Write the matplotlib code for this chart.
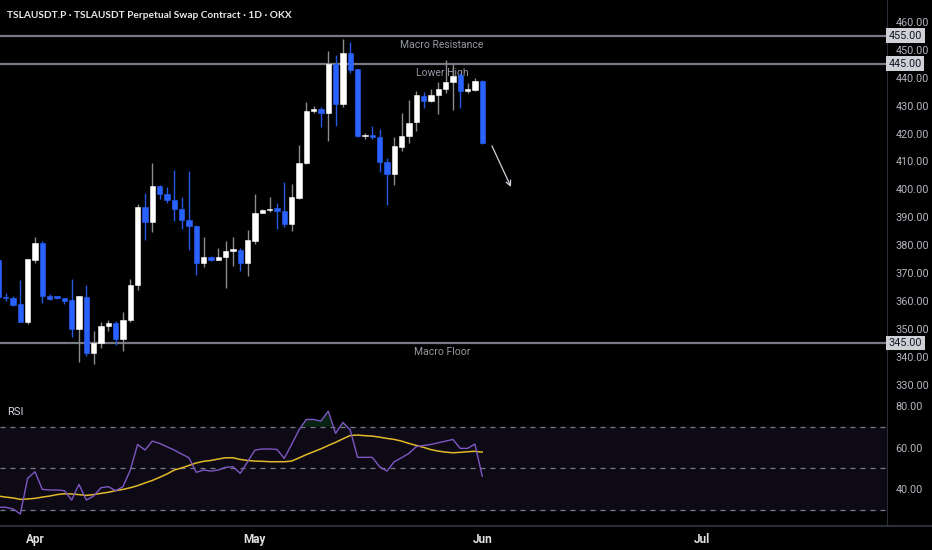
import pandas as pd
import matplotlib
matplotlib.use("Agg")
import matplotlib.pyplot as plt
import matplotlib.dates as mdates

plt.rcParams['font.family'] = ['Roboto', 'DejaVu Sans']

# daily candles, Mar 27 .. Jun 1
dates = pd.date_range('2025-03-27', '2025-06-01', freq='D')

opens = [374.7, 361.6, 361.0, 359.0, 352.7, 374.7, 380.7, 362.0, 361.5, 361.0,
         360.3, 350.0, 361.5, 341.6, 345.1, 351.2, 352.2, 346.5, 353.3, 365.8,
         393.6, 388.4, 401.1, 398.4, 396.3, 392.9, 389.2, 387.0, 373.6, 375.7,
         374.7, 375.7, 378.1, 378.2, 373.8, 381.7, 391.7, 392.7, 393.2, 392.3,
         387.6, 397.0, 409.4, 428.2, 428.7, 427.5, 444.8, 430.6, 448.7, 443.0,
         419.0, 419.4, 418.9, 409.9, 405.4, 415.3, 419.1, 424.1, 433.4, 431.7,
         433.7, 436.1, 438.6, 440.9, 435.4, 435.6, 438.9]
highs = [376.5, 362.8, 362.0, 367.6, 375.1, 383.1, 381.7, 362.6, 361.9, 361.2,
         367.9, 361.9, 365.8, 349.3, 352.4, 353.3, 352.9, 356.0, 367.8, 394.8,
         398.6, 409.4, 401.5, 400.8, 407.0, 397.2, 406.7, 387.2, 383.1, 376.2,
         378.9, 381.5, 383.1, 378.9, 385.5, 398.4, 392.9, 397.2, 395.0, 402.7,
         402.0, 416.0, 431.2, 429.9, 429.6, 449.5, 448.1, 453.7, 452.8, 443.2,
         420.3, 422.7, 421.6, 411.4, 418.7, 427.5, 432.0, 435.1, 435.0, 435.8,
         438.6, 446.3, 444.8, 441.6, 438.2, 440.0, 439.2]
lows = [360.0, 360.2, 358.2, 352.4, 351.8, 373.8, 359.5, 360.4, 360.7, 359.0,
        347.3, 338.4, 340.5, 337.5, 343.4, 349.4, 344.3, 342.3, 352.7, 364.0,
        381.9, 384.9, 396.5, 395.3, 388.8, 385.8, 378.3, 369.4, 372.1, 374.4,
        374.6, 364.8, 372.7, 370.9, 369.0, 380.5, 391.5, 392.0, 385.8, 386.4,
        385.0, 396.6, 409.1, 427.2, 422.5, 417.4, 422.8, 429.6, 441.8, 418.7,
        417.9, 418.2, 406.3, 394.4, 401.6, 413.9, 416.7, 421.0, 429.3, 431.2,
        426.9, 434.4, 428.4, 429.3, 434.4, 435.4, 416.2]
closes = [361.6, 361.0, 358.6, 352.7, 375.0, 380.7, 362.0, 360.9, 361.3, 360.2,
          350.0, 361.7, 341.5, 345.1, 351.2, 352.3, 346.5, 353.4, 365.8, 393.6,
          388.4, 401.1, 398.4, 396.2, 392.9, 389.1, 386.9, 373.6, 375.7, 374.7,
          375.7, 378.1, 378.3, 373.8, 381.9, 391.7, 392.6, 392.9, 392.3, 387.6,
          397.2, 409.6, 428.1, 428.4, 427.5, 444.8, 430.6, 448.7, 442.7, 419.1,
          419.2, 418.9, 409.7, 405.4, 415.4, 419.1, 423.9, 433.7, 431.7, 433.7,
          436.1, 438.6, 440.6, 435.3, 435.5, 438.9, 416.5]

rsi = [31.3, 31.3, 30.5, 28.1, 45.2, 48.4, 39.9, 39.6, 39.6, 39.3,
       34.8, 42.3, 34.8, 36.7, 40.7, 41.2, 39.3, 41.2, 49.2, 61.5,
       58.8, 63.1, 62.0, 60.4, 58.8, 56.9, 55.1, 48.1, 49.2, 48.7,
       49.2, 50.5, 50.8, 47.6, 53.2, 58.8, 59.3, 59.3, 59.1, 54.8,
       61.5, 68.4, 73.5, 73.5, 72.7, 77.5, 66.8, 72.1, 68.4, 55.3,
       55.3, 55.3, 50.8, 48.7, 53.2, 55.1, 57.2, 60.4, 61.0, 61.5,
       62.3, 63.1, 63.9, 59.6, 59.6, 61.7, 46.3]
rsi_ma = [36.7, 36.2, 35.8, 35.1, 35.3, 35.6, 36.2, 36.7, 37.4, 37.8,
          37.7, 37.4, 37.0, 37.4, 38.0, 38.5, 39.3, 39.9, 40.7, 41.7,
          43.0, 44.2, 45.7, 47.3, 49.2, 50.2, 51.4, 52.6, 53.4, 53.8,
          54.5, 55.1, 55.1, 54.3, 53.8, 53.5, 53.4, 53.2, 53.2, 53.2,
          53.5, 55.0, 56.6, 58.0, 59.4, 61.0, 62.5, 64.2, 65.8, 66.0,
          65.7, 65.5, 65.0, 64.4, 63.9, 63.1, 62.0, 61.0, 60.1, 59.0,
          58.3, 57.8, 57.5, 57.7, 58.0, 58.2, 57.8]

levels = [455, 445, 345]
level_notes = ['Macro Resistance', 'Lower High', 'Macro Floor']
note_prices = [451.8, 441.8, 341.8]
note_date = '2025-05-26 12:00'
price_ticks = list(range(330, 461, 10))
rsi_ticks = [40, 60, 80]
rsi_guides = [30, 50, 70]
arrow_start = ('2025-06-02 04:00', 416.5)
arrow_end = ('2025-06-05 02:00', 400.0)

BG = '#000000'
UP = '#ffffff'
DOWN = '#2962ff'
GRID = '#2a2e39'
TXT = '#b2b5be'

fig = plt.figure(figsize=(9.32, 5.5), dpi=100, facecolor=BG)
ax = fig.add_axes([0, 0.28, 0.9517, 0.72], facecolor=BG)
ax2 = fig.add_axes([0, 0.0436, 0.9517, 0.2346], facecolor=BG, sharex=ax)

x = mdates.date2num(dates)
for i in range(len(x)):
    up = closes[i] >= opens[i]
    body_c = UP if up else DOWN
    wick_c = '#8c8c8c' if up else '#2457e0'
    ax.vlines(x[i], lows[i], highs[i], color=wick_c, lw=1.0, zorder=3)
    lo = min(opens[i], closes[i])
    h = max(abs(closes[i] - opens[i]), 0.45)
    ax.bar(x[i], h, bottom=lo, width=0.72, color=body_c, edgecolor=body_c,
           lw=0.4, zorder=4)

for lv in levels:
    ax.axhline(lv, color='#787b86', lw=1.6, zorder=2)
nx = mdates.date2num(pd.Timestamp(note_date))
for txt, p in zip(level_notes, note_prices):
    ax.text(nx, p, txt, color='#9598a1', fontsize=7.5, ha='center', va='center',
            zorder=2)

ax.annotate('', xy=(mdates.date2num(pd.Timestamp(arrow_end[0])), arrow_end[1]),
            xytext=(mdates.date2num(pd.Timestamp(arrow_start[0])), arrow_start[1]),
            arrowprops=dict(arrowstyle='->', color='#d1d4dc', lw=0.9,
                            mutation_scale=9), zorder=5)

left = mdates.date2num(pd.Timestamp('2025-03-27 05:30'))
right = mdates.date2num(pd.Timestamp('2025-07-26 05:00'))
ax.set_xlim(left, right)
ax.set_ylim(326.07, 467.8)

# price axis on the right
ax.yaxis.tick_right()
ax.set_yticks(price_ticks)
ax.set_yticklabels(['%.2f' % t for t in price_ticks])
ax.tick_params(axis='y', colors=TXT, labelsize=7.8, length=0, pad=6)
ax.tick_params(axis='x', which='both', bottom=False, labelbottom=False)
for s in ax.spines.values():
    s.set_visible(False)
ax.spines['right'].set_visible(True)
ax.spines['right'].set_color(GRID)

for lv in levels:
    ax.text(1.002, lv, '%.2f' % lv, transform=ax.get_yaxis_transform(),
            ha='left', va='center', fontsize=7.8, color='#131722',
            bbox=dict(boxstyle='square,pad=0.22', fc='#cfd1d6', ec='none'),
            clip_on=False, zorder=10)

ax.text(0.0075, 0.962, 'TSLAUSDT.P · TSLAUSDT Perpetual Swap Contract · 1D · OKX',
        transform=ax.transAxes, color='#e8e8ea', fontsize=7.3, fontweight='bold',
        family=['Lato', 'DejaVu Sans'], ha='left', va='center')

# RSI pane
ax2.axhspan(rsi_guides[0], rsi_guides[-1], color='#0d0a16', zorder=0)
for g in rsi_guides:
    ax2.axhline(g, color='#787b86', lw=0.9, ls=(0, (4, 4)), zorder=1)
ax2.fill_between(x, rsi, 70, where=[r > 70 for r in rsi], interpolate=True,
                 color='#0f3a22', alpha=0.6, lw=0, zorder=1)
ax2.plot(x, rsi_ma, color='#e2b928', lw=1.1, zorder=3)
ax2.plot(x, rsi, color='#7e57c2', lw=1.0, zorder=4)
ax2.set_ylim(22.3, 84.3)
ax2.yaxis.tick_right()
ax2.set_yticks(rsi_ticks)
ax2.set_yticklabels(['%.2f' % t for t in rsi_ticks])
ax2.tick_params(axis='y', colors=TXT, labelsize=7.8, length=0, pad=6)
ax2.text(0.0075, 0.88, 'RSI', transform=ax2.transAxes, color='#d1d4dc',
         fontsize=8, ha='left', va='center')

ax2.xaxis.set_major_locator(mdates.MonthLocator())
ax2.xaxis.set_major_formatter(mdates.DateFormatter('%b'))
ax2.tick_params(axis='x', colors='#e0e0e0', labelsize=8.5, length=0, pad=5)
for lab in ax2.get_xticklabels():
    lab.set_fontweight('bold')
for s in ax2.spines.values():
    s.set_visible(False)
ax2.spines['right'].set_visible(True)
ax2.spines['right'].set_color(GRID)
ax2.spines['bottom'].set_visible(True)
ax2.spines['bottom'].set_color(GRID)
ax2.spines['bottom'].set_linewidth(1.5)
ax2.set_xlim(left, right)

fig.add_artist(plt.Line2D([0.9517, 1.0], [0.0436, 0.0436], color=GRID, lw=1.5,
                          transform=fig.transFigure))

fig.savefig('out.png', dpi=100, facecolor=BG)
